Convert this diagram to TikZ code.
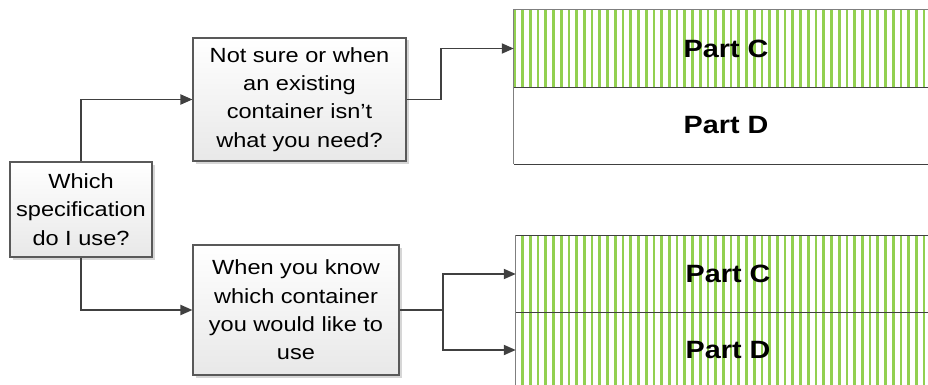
\documentclass[tikz,border=0pt]{standalone}
\usepackage{fontspec}
\setmainfont{Liberation Sans}
\newfontfamily\boxfont[FakeStretch=1.15]{Liberation Sans}
\usetikzlibrary{arrows.meta,backgrounds}

\definecolor{linegray}{HTML}{404040}
\definecolor{framegray}{HTML}{595959}
\definecolor{edgegray}{HTML}{7F7F7F}
\definecolor{stripegreen}{HTML}{92D050}
\definecolor{shadowgray}{HTML}{D6D6D6}

\tikzset{
  question/.style={draw=framegray, line width=1.1pt, top color=white, bottom color=black!9,
    align=center, inner sep=0pt, font=\boxfont\fontsize{20.5}{28.3}\selectfont,
    preaction={fill=shadowgray, transform canvas={shift={(2.5pt,-2.5pt)}}}},
  partbox/.style={minimum width=424pt, minimum height=77pt, inner sep=0pt,
    font=\boxfont\bfseries\fontsize{25}{30}\selectfont},
  flow/.style={draw=linegray, line width=1.9pt, -{Triangle[length=12pt,width=10pt]}},
  plainflow/.style={draw=linegray, line width=1.9pt},
  stripe/.style={draw=stripegreen, line width=2.7pt},
  outeredge/.style={draw=edgegray, line width=1.3pt},
  inneredge/.style={draw=linegray, line width=1.3pt},
}

\begin{document}
\begin{tikzpicture}[x=1pt, y=-1pt]
  \useasboundingbox (0,0) rectangle (928,385);

  % question boxes
  \node[question, minimum width=142pt, minimum height=95pt] (which) at (81,209.5)
    {Which\\specification\\do I use?};
  \node[question, minimum width=213pt, minimum height=123pt] (notsure) at (299.5,99.5)
    {Not sure or when\\an existing\\container isn’t\\what you need?};
  \node[question, minimum width=206pt, minimum height=130pt] (know) at (296,310)
    {When you know\\which container\\you would like to\\use};

  % upper specification block: striped Part C above a plain Part D
  \node[partbox] (partCa) at (726,48.5) {Part C};
  \node[partbox] (partDa) at (726,125.5) {Part D};

  % lower specification block: both parts striped
  \node[partbox, minimum height=76pt] (partCb) at (728,274) {Part C};
  \node[partbox, minimum height=76pt] (partDb) at (728,350) {Part D};

  \begin{scope}[on background layer]
    \begin{scope}
      \clip (partCa.north west) rectangle (partCa.south east);
      \foreach \i in {0,...,56}
        \draw[stripe] ({514.9+7.72*\i},0) -- ({514.9+7.72*\i},100);
    \end{scope}
    \begin{scope}
      \clip (partCb.north west) rectangle (partDb.south east);
      \foreach \i in {0,...,56}
        \draw[stripe] ({514.9+7.72*\i},220) -- ({514.9+7.72*\i},400);
    \end{scope}
  \end{scope}

  % block outlines
  \draw[outeredge] (partCa.north east) -- (partCa.north west) -- (partDa.south west);
  \draw[inneredge] (partCa.south west) -- (partCa.south east);
  \draw[inneredge] (partDa.south west) -- (partDa.south east);
  \draw[outeredge] (partCb.north east) -- (partCb.north west) -- (partDb.south west);
  \draw[inneredge] (partCb.north west) -- (partCb.north east);
  \draw[inneredge] (partCb.south west) -- (partCb.south east);

  % connectors
  \draw[flow] (which.north) |- (notsure.west);
  \draw[flow] (which.south) |- (know.west);
  \draw[flow] (notsure.east) -- ++(34,0) coordinate (upfork) |- (partCa.west);
  \draw[plainflow] (know.east) -- ++(43,0) coordinate (lowfork);
  \draw[flow] (lowfork) |- (partCb.west);
  \draw[flow] (lowfork) |- (partDb.west);
\end{tikzpicture}
\end{document}
